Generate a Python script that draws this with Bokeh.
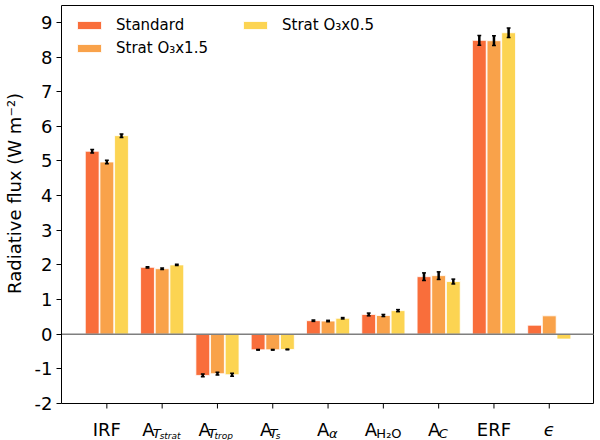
import numpy as np
from bokeh.plotting import figure
from bokeh.models import ColumnDataSource, FixedTicker, Range1d, LinearAxis
from bokeh.core.properties import value
from bokeh.embed import file_html
from bokeh.resources import INLINE

# ---------------- data ----------------
categories = ["IRF", "A_Tstrat", "A_Ttrop", "A_Ts", "A_alpha", "A_H2O", "A_C", "ERF", "epsilon"]
series_names = ["Standard", "Strat O₃x1.5", "Strat O₃x0.5"]

standard = [5.28, 1.93, -1.19, -0.45, 0.39, 0.57, 1.66, 8.48, 0.26]
strat_x15 = [4.97, 1.89, -1.14, -0.45, 0.38, 0.54, 1.69, 8.47, 0.53]
strat_x05 = [5.73, 2.00, -1.17, -0.44, 0.46, 0.68, 1.52, 8.70, -0.14]

err_standard = [0.05, 0.02, 0.04, 0.01, 0.02, 0.04, 0.11, 0.14, None]
err_x15 = [0.05, 0.02, 0.04, 0.01, 0.02, 0.03, 0.11, 0.14, None]
err_x05 = [0.05, 0.02, 0.04, 0.01, 0.02, 0.03, 0.07, 0.14, None]

colors = ["#F96E3B", "#F9A24A", "#FCD452"]

# tick label pieces: main text, subscript, sub-subscript
tick_main = ["IRF", "A", "A", "A", "A", "A", "A", "ERF", "ϵ"]
tick_sub = ["", "T", "T", "T", "α", "H₂O", "C", "", ""]
tick_subsub = ["", "strat", "trop", "s", "", "", "", "", ""]
y_ticks = list(range(-2, 10))
y_label = "Radiative flux (W m⁻²)"

FONT = "DejaVu Sans"

# ---------------- geometry ----------------
W, H = 598, 440
FRAME_L, FRAME_R, FRAME_T = 59, 594, 3          # canvas px; frame runs to the bottom
PX_Y = 34.65                                   # px per y unit
Y0_PX = 403                                    # canvas y of value -2 (box bottom)
BOX_X0, BOX_X1 = -0.82, 8.80                   # data x of box left/right
BOX_Y0, BOX_Y1 = -2.0, 9.486                   # data y of box bottom/top
PX_X = (593 - FRAME_L) / (BOX_X1 - BOX_X0)

y_lo = BOX_Y0 - (H - Y0_PX) / PX_Y
y_hi = BOX_Y0 + (Y0_PX - FRAME_T) / PX_Y
x_hi = BOX_X1 + (FRAME_R - 593) / PX_X

p = figure(width=W, height=H, output_backend="svg", toolbar_location=None, title=None,
           x_range=Range1d(BOX_X0, x_hi), y_range=Range1d(y_lo, y_hi),
           min_border_left=FRAME_L, min_border_right=W - FRAME_R,
           min_border_top=FRAME_T, min_border_bottom=0,
           x_axis_location=None)
p.xgrid.visible = False
p.ygrid.visible = False
p.outline_line_color = None
p.background_fill_color = "white"
p.border_fill_color = "white"

# plot box
p.quad(left=[BOX_X0], right=[BOX_X1], bottom=[BOX_Y0], top=[BOX_Y1],
       fill_color=None, line_color="black", line_width=1)

x = np.arange(len(categories))
offsets = [-0.265, 0.0, 0.265]
all_vals = [standard, strat_x15, strat_x05]
all_errs = [err_standard, err_x15, err_x05]

for vals, name, col, off in zip(all_vals, series_names, colors, offsets):
    src = ColumnDataSource(dict(x=list(x + off), top=vals))
    p.vbar(x="x", top="top", bottom=0, width=0.25, source=src,
           fill_color=col, line_color="white", line_width=0.8, legend_label=name)

# zero line
p.segment(x0=[BOX_X0], y0=[0], x1=[BOX_X1], y1=[0], line_color="#7f7f7f", line_width=1.5)

cap_half = 0.035
for vals, errs, off in zip(all_vals, all_errs, offsets):
    idx = [i for i, e in enumerate(errs) if e is not None]
    bx = [float(x[i] + off) for i in idx]
    up = [vals[i] + errs[i] for i in idx]
    lo = [vals[i] - errs[i] for i in idx]
    esrc = ColumnDataSource(dict(x=bx, up=up, lo=lo,
                                 xl=[b - cap_half for b in bx], xr=[b + cap_half for b in bx]))
    p.segment(x0="x", y0="lo", x1="x", y1="up", source=esrc, line_color="black", line_width=2.5)
    p.segment(x0="xl", y0="up", x1="xr", y1="up", source=esrc, line_color="black", line_width=1.5)
    p.segment(x0="xl", y0="lo", x1="xr", y1="lo", source=esrc, line_color="black", line_width=1.5)

# x ticks (below the box)
tick_len = 5 / PX_Y
p.segment(x0=list(x.astype(float)), y0=[BOX_Y0] * len(x), x1=list(x.astype(float)),
          y1=[BOX_Y0 - tick_len] * len(x), line_color="black", line_width=1)

# y axis
yax = p.yaxis[0]
yax.bounds = (BOX_Y0, BOX_Y1)
yax.ticker = FixedTicker(ticks=y_ticks)
yax.major_label_overrides = {t: str(t) for t in y_ticks}
yax.major_label_text_font = FONT
yax.major_label_text_font_size = "18px"
yax.major_label_text_color = "black"
yax.major_label_standoff = 4
yax.major_tick_out = 5
yax.major_tick_in = 0
yax.minor_tick_out = 0
yax.minor_tick_in = 0
yax.axis_line_color = "black"
yax.major_tick_line_color = "black"

# second (label-only) axis; leading no-break spaces lift the centred title to
# where the reference has it (the frame extends below the box for the tick labels)
lab_ax = LinearAxis(axis_label="\u00a0" * 10 + y_label, bounds=(-1.26, 9.5),
                    ticker=FixedTicker(ticks=[]),
                    major_label_text_font_size="0px", major_tick_line_color=None,
                    minor_tick_line_color=None, axis_line_color=None,
                    axis_label_text_font=FONT, axis_label_text_font_size="18px",
                    axis_label_text_font_style="normal", axis_label_text_color="black",
                    axis_label_standoff=7)
p.add_layout(lab_ax, "left")

# legend
leg = p.legend[0]
leg.location = "top_left"
leg.orientation = "vertical"
leg.nrows = 2
leg.label_text_font = FONT
leg.label_text_font_size = "15px"
leg.label_text_color = "black"
leg.glyph_width = 30
leg.glyph_height = 10
leg.label_standoff = 12
leg.label_width = 119
leg.label_height = 18
leg.spacing = 5
leg.padding = 13
leg.margin = 0
leg.border_line_alpha = 0
leg.background_fill_alpha = 0

# ---------------- x tick labels (with subscripts) ----------------
base_y = BOX_Y0 - (429.3 - Y0_PX) / PX_Y
sub_y = base_y - 3.5 / PX_Y
subsub_y = base_y - 6.0 / PX_Y

# horizontal offsets in px (A left edge, sub left edge, subsub left edge)
layout_dx = {
    1: (-20.0, -9.5, -2.5),
    2: (-19.0, -9.5, -3.0),
    3: (-12.7, -3.3, 3.0),
    4: (-11.0, 1.0, None),
    5: (-18.7, -7.0, None),
    6: (-10.7, 0.0, None),
}

def add_texts(xs, ys, texts, offs, size, style, align):
    if not xs:
        return
    src = ColumnDataSource(dict(x=xs, y=ys, text=texts, xo=offs))
    p.text(x="x", y="y", text="text", x_offset="xo", source=src,
           text_font=value(FONT), text_font_size=value(size), text_font_style=style,
           text_align=align, text_baseline="alphabetic", text_color="black")

cx, ct, cxi, cti = [], [], [], []
ax, ao = [], []
sx, st, so = [], [], []
sxr, str_, sor = [], [], []
ssx, sst, sso = [], [], []
for i in range(len(categories)):
    if i in layout_dx:
        dA, dS, dSS = layout_dx[i]
        ax.append(float(i)); ao.append(dA)
        if tick_sub[i] == "H₂O":
            sxr.append(float(i)); str_.append(tick_sub[i]); sor.append(dS)
        else:
            sx.append(float(i)); st.append(tick_sub[i]); so.append(dS)
        if dSS is not None:
            ssx.append(float(i)); sst.append(tick_subsub[i]); sso.append(dSS)
    elif tick_main[i] == "ϵ":
        cxi.append(float(i)); cti.append(tick_main[i])
    else:
        cx.append(float(i)); ct.append(tick_main[i])

add_texts(cx, [base_y] * len(cx), ct, [0.0] * len(cx), "18px", "normal", "center")
add_texts(cxi, [base_y] * len(cxi), cti, [0.0] * len(cxi), "18px", "italic", "center")
add_texts(ax, [base_y] * len(ax), [tick_main[int(v)] for v in ax], ao, "18px", "normal", "left")
add_texts(sx, [sub_y] * len(sx), st, so, "13px", "italic", "left")
add_texts(sxr, [sub_y] * len(sxr), str_, sor, "13px", "normal", "left")
add_texts(ssx, [subsub_y] * len(ssx), sst, sso, "9px", "italic", "left")

open("out.html", "w").write(file_html(p, INLINE))
